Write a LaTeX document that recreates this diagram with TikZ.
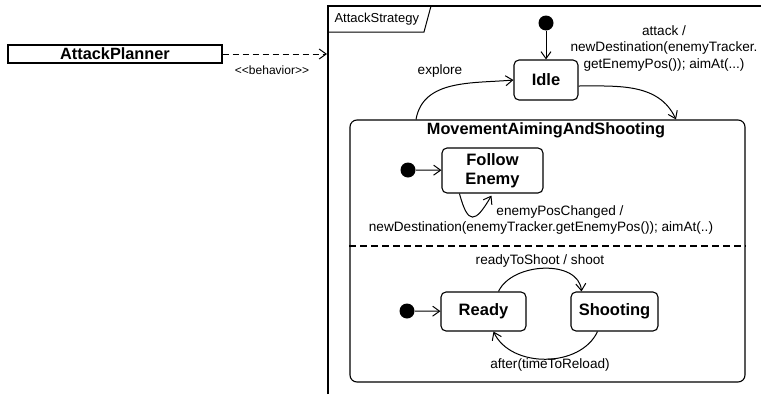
\documentclass[tikz,border=0pt]{standalone}
\usepackage{fontspec}
\setmainfont{Liberation Sans}
\usetikzlibrary{arrows.meta}
\usetikzlibrary{positioning}
\usetikzlibrary{calc}

\begin{document}
\begin{tikzpicture}[
            x = 1pt, y = -1pt, % one unit per pixel, y downwards
            > = {Straight Barb[length=7pt, width=10pt]}, % open arrow head
            line width = 1pt
        ]

        \tikzstyle{simple}=[
            draw,
            rounded corners = 5pt,
            line width = 1.1pt,
            font = \bfseries\fontsize{16.5}{19}\selectfont,
            align = center,
            inner sep = 0pt
        ]
        \tikzstyle{txt}=[font = \fontsize{13.6}{16.5}\selectfont, inner sep = 0pt, align = center]
        \tikzstyle{init}=[circle, fill = black, minimum size = 15pt, inner sep = 0pt]

        \useasboundingbox (0,0) rectangle (761,394);

	% class and frame
        \node[draw, line width = 1.4pt, minimum width = 214pt, minimum height = 18pt, inner sep = 0pt,
              font = \bfseries\fontsize{16.3}{18}\selectfont] (AP) at (115,54) {AttackPlanner};
        \coordinate (FR) at (328,6);
        \coordinate (FB) at (328,394);
        \coordinate (FE2) at (761,6);
        \draw[line width = 1.8pt] (FB) -- (FR) -- (FE2);
        \node[txt, anchor = west, font = \fontsize{13}{15}\selectfont] (AS) at (334,19) {AttackStrategy};
        \coordinate (T1) at (328,32);
        \coordinate (T2) at (424,32);
        \coordinate (T3) at (431,6);
        \draw (T1) -- (T2) -- (T3);
        \coordinate (FL) at (FR |- AP);
        \draw[dash pattern = on 6pt off 4pt, ->, shorten > = 1pt] (AP) -- (FL);
        \node[txt, font = \fontsize{12}{14}\selectfont] (BH) at (272,70)
            {\textless\kern0pt\textless\kern0pt behavior\kern0pt\textgreater\kern0pt\textgreater};

	% top level
        \node[init] (I0) at (546,23) {};
        \node[simple, minimum width = 64pt, minimum height = 40pt] (Idle) at (546,80) {Idle};
        \draw[->] (I0) -- (Idle);

        \node[draw, rounded corners = 7pt, line width = 1.1pt, minimum width = 395pt, minimum height = 262pt] (MAAS) at (547.5,251) {};
        \node[txt, font = \bfseries\fontsize{16.3}{18}\selectfont] (MT) at (546,130) {MovementAimingAndShooting};

        \coordinate (xA) at (676,0);
        \coordinate (xE) at (416,0);
        \coordinate (yA) at (0,86);
        \draw[->] (Idle.east |- yA) to[out = 0, in = 115] (MAAS.north -| xA);
        \draw[->] (MAAS.north -| xE) to[out = 80, in = 185] (Idle.west);
        \node[txt] (AT) at (664,48) {attack /\\newDestination(enemyTracker.\\getEnemyPos()); aimAt(...)};
        \node[txt] (EX) at (440,71) {explore};

	% upper region
        \node[init] (I1) at (408,170) {};
        \node[simple, minimum width = 101pt, minimum height = 45pt] (FE) at (492.5,170.5) {Follow\\Enemy};
        \draw[->] (I1) -- (FE);
        \draw[->] ($(FE.south west)+(18,0)$) to[out = -75, in = -120, looseness = 2.6] ($(FE.south west)+(50,2)$);
        \node[txt] (EP1) at (560,212) {enemyPosChanged /};
        \node[txt] (EP2) at (541,228) {newDestination(enemyTracker.getEnemyPos()); aimAt(..)};

        % separator
        \coordinate (S) at (0,246);
        \draw[dash pattern = on 7pt off 4pt, line width = 1.6pt] (MAAS.west |- S) -- (MAAS.east |- S);

	% lower region
        \node[init] (I2) at (407,311) {};
        \node[simple, minimum width = 85pt, minimum height = 39pt] (RD) at (483.5,311.5) {Ready};
        \node[simple, minimum width = 87pt, minimum height = 39pt] (SH) at (614.5,311.5) {Shooting};
        \draw[->] (I2) -- (RD);
        \draw[->] ($(RD.north)+(15,0)$) to[out = 65, in = 95] ($(SH.north)+(-33,0)$);
        \draw[->] ($(SH.south)+(-17,0)$) to[out = -115, in = -65] ($(RD.south)+(10,0)$);
        \node[txt] (RS) at (540,261) {readyToShoot / shoot};
        \node[txt] (TR) at (550,365) {after(timeToReload)};

\end{tikzpicture}
\end{document}
